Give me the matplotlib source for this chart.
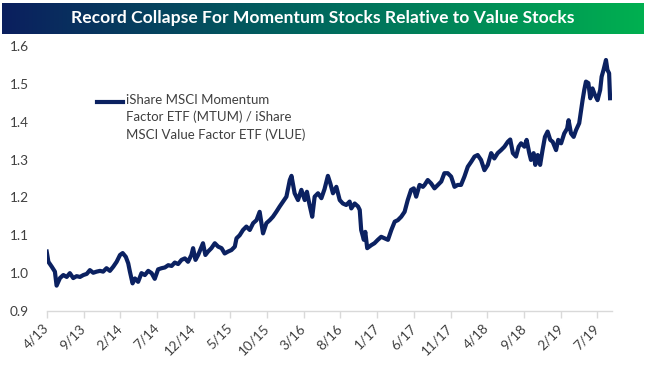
import matplotlib
matplotlib.use("Agg")
import matplotlib.pyplot as plt
from matplotlib.colors import LinearSegmentedColormap
from matplotlib.lines import Line2D
import numpy as np
import pandas as pd

plt.rcParams['font.family'] = ['Lato', 'DejaVu Sans']

title = "Record Collapse For Momentum Stocks Relative to Value Stocks"
series_label = "iShare MSCI Momentum\nFactor ETF (MTUM) / iShare\nMSCI Value Factor ETF (VLUE)"

dates = [
    "2013-04-01", "2013-04-08", "2013-04-22", "2013-05-05", "2013-05-12", "2013-05-26",
    "2013-06-09", "2013-06-23", "2013-07-06", "2013-07-20", "2013-08-03", "2013-08-17",
    "2013-08-31", "2013-09-14", "2013-09-27", "2013-10-11", "2013-10-25", "2013-11-08",
    "2013-11-21", "2013-12-05", "2013-12-19", "2014-01-02", "2014-01-16", "2014-01-30",
    "2014-02-10", "2014-02-23", "2014-03-05", "2014-03-12", "2014-03-23", "2014-04-02",
    "2014-04-15", "2014-04-29", "2014-05-13", "2014-05-27", "2014-06-10", "2014-06-23",
    "2014-07-07", "2014-07-21", "2014-08-04", "2014-08-18", "2014-09-01", "2014-09-14",
    "2014-09-28", "2014-10-12", "2014-10-26", "2014-11-08", "2014-11-22", "2014-11-29",
    "2014-12-09", "2014-12-20", "2015-01-03", "2015-01-09", "2015-01-19", "2015-01-30",
    "2015-02-13", "2015-02-27", "2015-03-13", "2015-03-27", "2015-04-09", "2015-04-23",
    "2015-05-07", "2015-05-21", "2015-05-28", "2015-06-10", "2015-06-24", "2015-07-08",
    "2015-07-22", "2015-08-05", "2015-08-19", "2015-09-01", "2015-09-15", "2015-09-29",
    "2015-10-13", "2015-10-26", "2015-11-09", "2015-11-23", "2015-12-07", "2015-12-21",
    "2016-01-04", "2016-01-11", "2016-01-24", "2016-02-07", "2016-02-21", "2016-03-06",
    "2016-03-15", "2016-03-26", "2016-04-06", "2016-04-16", "2016-04-30", "2016-05-14",
    "2016-05-27", "2016-06-10", "2016-06-20", "2016-07-01", "2016-07-15", "2016-07-29",
    "2016-08-11", "2016-08-25", "2016-09-08", "2016-09-15", "2016-09-29", "2016-10-13",
    "2016-10-20", "2016-10-26", "2016-11-06", "2016-11-12", "2016-11-20", "2016-12-07",
    "2016-12-20", "2017-01-03", "2017-01-17", "2017-01-31", "2017-02-14", "2017-02-28",
    "2017-03-14", "2017-03-27", "2017-04-10", "2017-04-24", "2017-05-07", "2017-05-21",
    "2017-06-01", "2017-06-11", "2017-06-25", "2017-07-09", "2017-07-16", "2017-07-29",
    "2017-08-12", "2017-08-26", "2017-09-09", "2017-09-23", "2017-10-06", "2017-10-20",
    "2017-11-03", "2017-11-17", "2017-11-30", "2017-12-14", "2017-12-28", "2018-01-11",
    "2018-01-25", "2018-02-08", "2018-02-21", "2018-03-07", "2018-03-21", "2018-04-04",
    "2018-04-18", "2018-05-01", "2018-05-15", "2018-05-29", "2018-06-12", "2018-06-26",
    "2018-07-06", "2018-07-17", "2018-07-30", "2018-08-10", "2018-08-20", "2018-09-03",
    "2018-09-12", "2018-09-23", "2018-09-30", "2018-10-11", "2018-10-18", "2018-10-28",
    "2018-11-07", "2018-11-17", "2018-11-27", "2018-12-08", "2018-12-19", "2018-12-29",
    "2019-01-12", "2019-01-21", "2019-02-02", "2019-02-15", "2019-02-27", "2019-03-05",
    "2019-03-15", "2019-03-26", "2019-04-05", "2019-04-18", "2019-04-25", "2019-05-02",
    "2019-05-09", "2019-05-16", "2019-05-26", "2019-06-03", "2019-06-12", "2019-06-22",
    "2019-07-03", "2019-07-14", "2019-07-20", "2019-07-28", "2019-08-07", "2019-08-13",
    "2019-08-20", "2019-08-24",
]

ratio = [
    1.057, 1.030, 1.017, 1.004, 0.967, 0.987,
    0.995, 0.990, 1.000, 0.987, 0.992, 0.990,
    0.995, 0.998, 1.008, 1.001, 1.004, 1.006,
    1.004, 1.013, 1.006, 1.017, 1.030, 1.048,
    1.053, 1.043, 1.026, 1.004, 0.973, 0.986,
    0.977, 1.000, 0.995, 1.006, 1.000, 0.985,
    1.010, 1.013, 1.015, 1.021, 1.019, 1.028,
    1.024, 1.035, 1.039, 1.030, 1.048, 1.066,
    1.035, 1.048, 1.070, 1.079, 1.048, 1.057,
    1.066, 1.079, 1.070, 1.066, 1.052, 1.057,
    1.061, 1.070, 1.092, 1.100, 1.114, 1.123,
    1.114, 1.132, 1.140, 1.162, 1.105, 1.132,
    1.140, 1.149, 1.162, 1.176, 1.189, 1.202,
    1.246, 1.257, 1.211, 1.193, 1.220, 1.193,
    1.215, 1.180, 1.149, 1.202, 1.211, 1.198,
    1.222, 1.257, 1.237, 1.211, 1.228, 1.193,
    1.184, 1.180, 1.189, 1.171, 1.184, 1.176,
    1.167, 1.114, 1.088, 1.109, 1.066, 1.074,
    1.079, 1.088, 1.096, 1.092, 1.088, 1.114,
    1.136, 1.140, 1.149, 1.162, 1.193, 1.220,
    1.224, 1.202, 1.233, 1.228, 1.233, 1.246,
    1.237, 1.224, 1.233, 1.242, 1.264, 1.264,
    1.255, 1.228, 1.233, 1.233, 1.255, 1.281,
    1.294, 1.308, 1.312, 1.299, 1.272, 1.286,
    1.317, 1.303, 1.317, 1.325, 1.334, 1.347,
    1.353, 1.317, 1.308, 1.334, 1.343, 1.334,
    1.352, 1.317, 1.299, 1.317, 1.286, 1.312,
    1.286, 1.325, 1.360, 1.374, 1.352, 1.347,
    1.325, 1.352, 1.343, 1.369, 1.382, 1.404,
    1.369, 1.360, 1.378, 1.396, 1.427, 1.457,
    1.484, 1.506, 1.502, 1.462, 1.488, 1.471,
    1.457, 1.484, 1.519, 1.537, 1.563, 1.537,
    1.528, 1.462,
]

tick_dates = ["2013-04-01", "2013-09-01", "2014-02-01", "2014-07-01", "2014-12-01",
              "2015-05-01", "2015-10-01", "2016-03-01", "2016-08-01", "2017-01-01",
              "2017-06-01", "2017-11-01", "2018-04-01", "2018-09-01", "2019-02-01",
              "2019-07-01"]
tick_labels = ["4/13", "9/13", "2/14", "7/14", "12/14", "5/15", "10/15", "3/16",
               "8/16", "1/17", "6/17", "11/17", "4/18", "9/18", "2/19", "7/19"]
y_ticks = [0.9, 1.0, 1.1, 1.2, 1.3, 1.4, 1.5, 1.6]

W, H = 646, 365
fig = plt.figure(figsize=(W / 100, H / 100), dpi=100)
fig.patch.set_facecolor('white')

# Title banner with gradient
bax = fig.add_axes([2 / W, 1 - 34 / H, 642 / W, 31 / H])
cmap = LinearSegmentedColormap.from_list('ban', ['#0B1F5E', '#006A5E', '#00B050'])
grad = np.linspace(0, 1, 256).reshape(1, -1)
bax.imshow(grad, aspect='auto', cmap=cmap, extent=[0, 1, 0, 1])
bax.set_axis_off()
bax.text(0.5, 0.5, title, color='white', fontsize=12.6, fontweight='bold',
         ha='center', va='center', transform=bax.transAxes)

line_color = '#0B2161'
text_color = '#404040'

ax = fig.add_axes([46.7 / W, 1 - 311 / H, (612 - 46.7) / W, (311 - 46) / H])
x = pd.to_datetime(dates)
ax.plot(x, ratio, color=line_color, lw=3.0, solid_joinstyle='round')

ax.set_ylim(0.9, 1.6)
ax.set_xlim(pd.Timestamp("2013-04-01"), pd.Timestamp("2019-09-01"))
ax.set_yticks(y_ticks)
ax.set_yticklabels([f"{v:.1f}" for v in y_ticks], color=text_color, fontsize=9.8)
ax.set_xticks(pd.to_datetime(tick_dates))
ax.set_xticklabels(tick_labels, rotation=45, ha='right', va='center',
                   rotation_mode='anchor', color=text_color, fontsize=9.8)
ax.tick_params(axis='y', length=0, pad=13)
ax.tick_params(axis='x', length=5, color='#D9D9D9', width=1, pad=6)
for s in ['top', 'right', 'left']:
    ax.spines[s].set_visible(False)
ax.spines['bottom'].set_color('#D9D9D9')
ax.spines['bottom'].set_linewidth(1)

# Legend (line sample aligned with first text line)
fig.add_artist(Line2D([97 / W, 123 / W], [1 - 102 / H, 1 - 102 / H],
                      color=line_color, lw=3.0, transform=fig.transFigure))
fig.text(126 / W, 1 - 94 / H, series_label, color=text_color, fontsize=9.5,
         ha='left', va='top', linespacing=1.45)

fig.savefig("out.png", dpi=100)
